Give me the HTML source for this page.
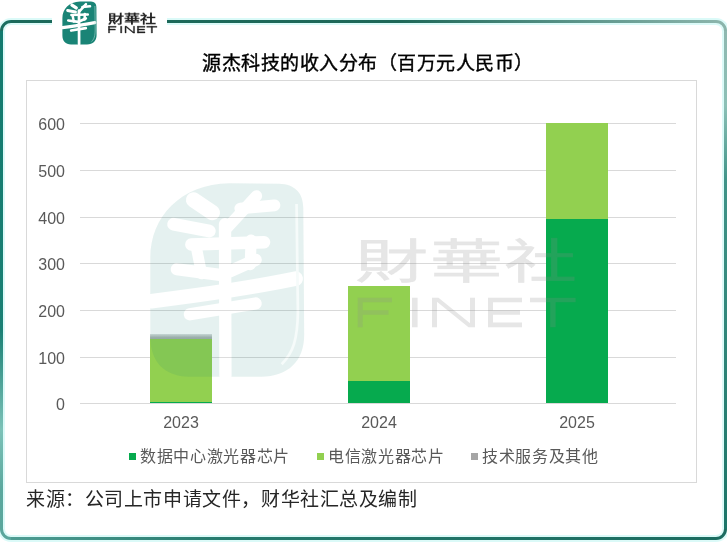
<!DOCTYPE html>
<html lang="zh-CN">
<head>
<meta charset="utf-8">
<style>
html,body{margin:0;padding:0;}
body{width:727px;height:560px;background:#fff;position:relative;overflow:hidden;font-family:"Liberation Sans",sans-serif;}
.abs{position:absolute;}
.title,.ylab,.xlab,.leg,.src,.abs{will-change:transform;}
.title{position:absolute;left:202px;top:50px;font-size:19px;letter-spacing:0.5px;font-weight:400;-webkit-text-stroke:0.4px #000;color:#000;white-space:nowrap;line-height:28px;}
.box{position:absolute;left:26px;top:80px;width:671px;height:403px;box-sizing:border-box;border:1px solid #d9d9d9;}
.grid{position:absolute;left:80px;width:596px;height:1px;background:#d9d9d9;}
.ylab{position:absolute;width:50px;left:15px;text-align:right;font-size:16px;color:#595959;line-height:22px;}
.bar{position:absolute;width:62px;}
.xlab{position:absolute;width:80px;text-align:center;font-size:16px;color:#595959;line-height:22px;}
.leg{position:absolute;top:446px;font-size:16px;letter-spacing:0.65px;color:#595959;line-height:22px;white-space:nowrap;}
.sq{position:absolute;width:7px;height:7px;}
.src{position:absolute;left:26px;top:486px;font-size:19px;letter-spacing:0.58px;color:#262626;line-height:28px;white-space:nowrap;}
.wmt{color:rgba(140,140,140,0.22);}
.wmt2{color:#8c8c8c;-webkit-text-stroke:0.8px #8c8c8c;opacity:0.22;}
</style>
</head>
<body>
<svg class="abs" style="left:0;top:0" width="727" height="560" viewBox="0 0 727 560">
<defs>
<linearGradient id="gTop" gradientUnits="userSpaceOnUse" x1="11" y1="0" x2="716" y2="0">
<stop offset="0" stop-color="#1b6a5b"/><stop offset="0.55" stop-color="#1e6858"/><stop offset="0.8" stop-color="#5a9489"/><stop offset="1" stop-color="#8ab4ab"/></linearGradient>
<linearGradient id="gRight" gradientUnits="userSpaceOnUse" x1="0" y1="31" x2="0" y2="529">
<stop offset="0" stop-color="#8fb8b0"/><stop offset="0.15" stop-color="#8cc0b6"/><stop offset="0.3" stop-color="#3f9488"/><stop offset="1" stop-color="#1b7568"/></linearGradient>
<linearGradient id="gBottom" gradientUnits="userSpaceOnUse" x1="11" y1="0" x2="716" y2="0">
<stop offset="0" stop-color="#4f9d93"/><stop offset="0.3" stop-color="#267a6d"/><stop offset="1" stop-color="#1c6c60"/></linearGradient>
<linearGradient id="gLeft" gradientUnits="userSpaceOnUse" x1="0" y1="31" x2="0" y2="529">
<stop offset="0" stop-color="#127a6e"/><stop offset="0.6" stop-color="#1a8074"/><stop offset="0.8" stop-color="#7cc2b8"/><stop offset="0.92" stop-color="#5ba89e"/><stop offset="1" stop-color="#5aa69c"/></linearGradient>
</defs>
<path d="M11,21.5 H52 M167,21.5 H716 A9.5,9.5 0 0 1 725.5,31 V529 A9.5,9.5 0 0 1 716,538.5 H11 A9.5,9.5 0 0 1 1.5,529 V31 A9.5,9.5 0 0 1 11,21.5" fill="none" stroke="#cff8f6" stroke-width="7" opacity="0.75"/>
<g fill="none" stroke-width="3">
<path d="M11,21.5 H52 M167,21.5 H716" stroke="url(#gTop)"/>
<path d="M716,21.5 A9.5,9.5 0 0 1 725.5,31" stroke="#8ab4ab"/>
<path d="M725.5,31 V529" stroke="url(#gRight)"/>
<path d="M725.5,529 A9.5,9.5 0 0 1 716,538.5" stroke="#1c6c60"/>
<path d="M716,538.5 H11" stroke="url(#gBottom)"/>
<path d="M11,538.5 A9.5,9.5 0 0 1 1.5,529" stroke="#5aa69c"/>
<path d="M1.5,529 V31" stroke="url(#gLeft)"/>
<path d="M1.5,31 A9.5,9.5 0 0 1 11,21.5" stroke="#1a6e60"/>
</g>
</svg>

<svg class="abs" style="left:0;top:0" width="727" height="560" viewBox="0 0 727 560">
<defs>
<g id="mark">
<path d="M80,1.4 L91,1.5 C94.5,1.6 96.4,3.5 96.4,7 L96.6,35 C96.6,41 93,44.3 87,44.4 L71,44.4 C65.5,44.3 62.4,41 62.4,35.5 L62.4,18 C62.4,9 69,1.6 80,1.4 Z" fill="#1a8476"/>
<g fill="none" stroke="#fff" stroke-linecap="round" stroke-linejoin="round">
<path d="M72,5.1 L76.2,7.9" stroke-width="3.38"/>
<path d="M67.6,10.5 L75.5,12" stroke-width="2.86"/>
<path d="M82.4,7 L90,6.3" stroke-width="2.6"/>
<path d="M86,4.2 L79,11.8" stroke-width="2.5"/>
<path d="M71.5,15 L87.7,14.5" stroke-width="2.73"/>
<path d="M72.6,15.5 L73.8,21.5 M84.8,14 L84.6,19.5" stroke-width="2.47"/>
<path d="M68.3,20.5 L78.3,21.8 M80.2,20.9 L85.8,18.4" stroke-width="2.73"/>
<path d="M62.6,27.6 C74,26.2 86,24.4 94.7,22.6" stroke-width="3.25"/>
<path d="M71.2,30.5 L85.8,28.1" stroke-width="2.73"/>
<path d="M79,10.5 L79.1,44.2" stroke-width="2.73"/>
</g>
<path d="M94.9,6 L95.2,30 C95.1,36 94.2,39 91.6,41.6" stroke="#a8d6cf" stroke-width="0.6" fill="none"/>
</g>
<path id="finet" d="M357.7,297.7H362.7V327.2H357.7ZM357.7,297.7H392.0V302.3H357.7ZM357.7,310.2H388.5V314.8H357.7ZM412.0,297.7H417.6V327.2H412.0ZM432.0,297.7H437.0V327.2H432.0ZM470.0,297.7H475.0V327.2H470.0ZM432,297.7H438.5L475,327.2H468.5ZM488.0,297.7H493.0V327.2H488.0ZM488.0,297.7H522.0V302.3H488.0ZM488.0,310.2H520.0V314.8H488.0ZM488.0,322.6H522.0V327.2H488.0ZM530.0,297.7H575.6V302.3H530.0ZM550.2,297.7H555.6V327.2H550.2Z"/>
</defs>
<use href="#mark"/>
<g transform="translate(0,-0.5) scale(0.22222) translate(130.5,-177)" fill="#222" stroke="#222" stroke-width="1.8"><use href="#finet"/></g>
</svg>
<div class="abs" style="left:108px;top:8px;width:52px;height:18px;font-size:16px;line-height:18px;font-weight:700;color:#222;white-space:nowrap;transform:scaleY(0.74);transform-origin:0 100%;">財華社</div>

<div class="title">源杰科技的收入分布（百万元人民币）</div>
<div class="box"></div>

<div class="grid" style="top:123px"></div>
<div class="grid" style="top:170px"></div>
<div class="grid" style="top:217px"></div>
<div class="grid" style="top:263px"></div>
<div class="grid" style="top:310px"></div>
<div class="grid" style="top:357px"></div>
<div class="grid" style="top:403px"></div>

<div class="ylab" style="top:114px">600</div>
<div class="ylab" style="top:161px">500</div>
<div class="ylab" style="top:208px">400</div>
<div class="ylab" style="top:254px">300</div>
<div class="ylab" style="top:301px">200</div>
<div class="ylab" style="top:348px">100</div>
<div class="ylab" style="top:394px">0</div>

<!-- bars -->
<div class="bar" style="left:150px;top:334px;height:6px;background:linear-gradient(#dde1e1,#adb5b2 55%,#a2aaa7)"></div>
<div class="bar" style="left:150px;top:339px;height:63px;background:#92d050"></div>
<div class="bar" style="left:150px;top:402px;height:1px;background:#06aa4e"></div>

<div class="bar" style="left:348px;top:286px;height:95px;background:#92d050"></div>
<div class="bar" style="left:348px;top:381px;height:22px;background:#06aa4e"></div>

<div class="bar" style="left:546px;top:123px;height:96px;background:#92d050"></div>
<div class="bar" style="left:546px;top:219px;height:184px;background:#06aa4e"></div>

<div class="xlab" style="left:141px;top:412px">2023</div>
<div class="xlab" style="left:339px;top:412px">2024</div>
<div class="xlab" style="left:537px;top:412px">2025</div>

<div class="sq" style="left:129px;top:453px;background:#06aa4e"></div>
<div class="leg" style="left:140px">数据中心激光器芯片</div>
<div class="sq" style="left:317px;top:453px;background:#92d050"></div>
<div class="leg" style="left:328px">电信激光器芯片</div>
<div class="sq" style="left:471px;top:453px;background:#a5a5a5"></div>
<div class="leg" style="left:482px">技术服务及其他</div>

<div class="src">来源：公司上市申请文件，财华社汇总及编制</div>

<svg class="abs" style="left:0;top:0" width="727" height="560" viewBox="0 0 727 560">
<use href="#mark" transform="translate(-130.5,177) scale(4.5)" opacity="0.11"/>
</svg>
<div class="abs wmt2" style="left:355px;top:238px;font-size:73px;line-height:73px;font-weight:400;white-space:nowrap;letter-spacing:1.6px;transform:scaleY(0.65);transform-origin:0 0;">財華社</div>
<svg class="abs" style="left:0;top:0" width="727" height="560" viewBox="0 0 727 560"><use href="#finet" fill="rgba(140,140,140,0.22)"/></svg>

</body>
</html>
